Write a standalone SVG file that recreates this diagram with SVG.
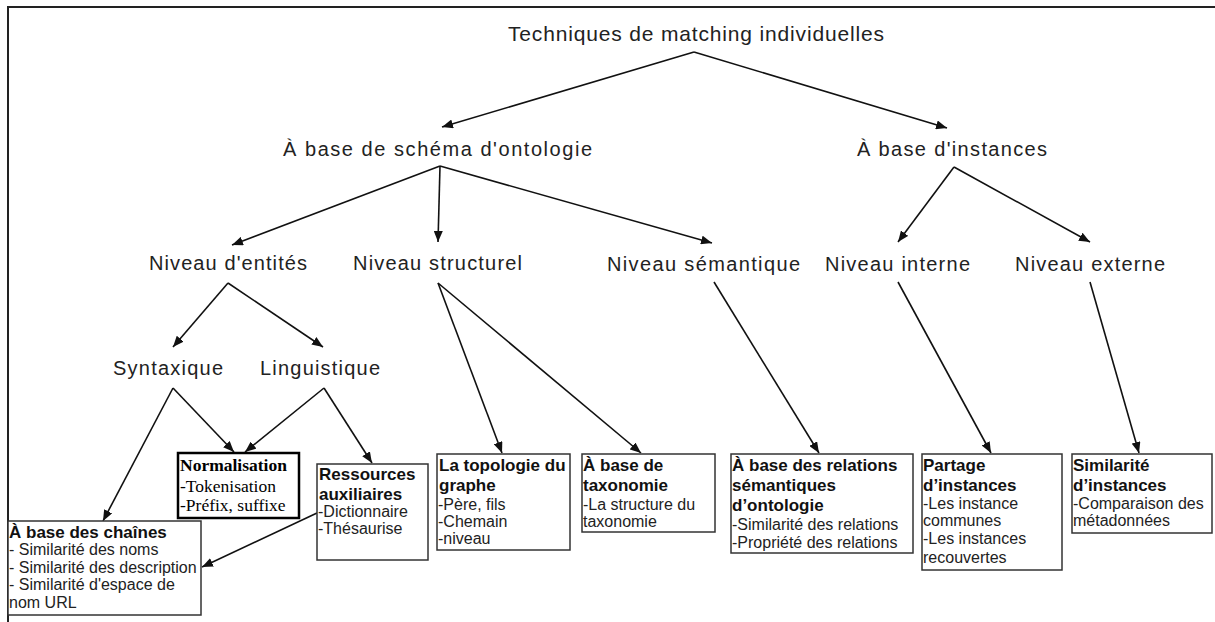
<svg xmlns="http://www.w3.org/2000/svg" width="1215" height="622" viewBox="0 0 1215 622">
<defs>
<marker id="ah" markerUnits="userSpaceOnUse" markerWidth="11" markerHeight="9" refX="11" refY="4.5" orient="auto">
<path d="M0,0 L11,4.5 L0,9 z" fill="#111"/>
</marker>
<style>
.lbl{font-family:"Liberation Sans",Arial,sans-serif;font-size:20px;fill:#222}
.ttl{font-family:"Liberation Sans",Arial,sans-serif;font-size:21px;fill:#222}
.box{fill:#fff;stroke:#333;stroke-width:1.5}
.boxk{fill:#fff;stroke:#000;stroke-width:2.5}
.b{font-family:"Liberation Sans",Arial,sans-serif;font-size:17px;font-weight:bold;fill:#111}
.r{font-family:"Liberation Sans",Arial,sans-serif;font-size:16px;fill:#222}
.tb{font-family:"Liberation Serif","Times New Roman",serif;font-size:17.5px;font-weight:bold;fill:#000}
.tr{font-family:"Liberation Serif","Times New Roman",serif;font-size:17.5px;fill:#000}
.c{stroke:#111;stroke-width:1.6;fill:none;marker-end:url(#ah)}
</style>
</defs>
<rect width="1215" height="622" fill="#fff"/>
<rect x="8" y="7" width="1230" height="640" fill="none" stroke="#222" stroke-width="2"/>

<g id="connectors">
<line class="c" x1="694" y1="52" x2="442" y2="127"/>
<line class="c" x1="694" y1="52" x2="947" y2="128"/>
<line class="c" x1="440" y1="166" x2="232" y2="245"/>
<line class="c" x1="440" y1="166" x2="438" y2="242"/>
<line class="c" x1="440" y1="166" x2="712" y2="243"/>
<line class="c" x1="954" y1="167" x2="898" y2="242"/>
<line class="c" x1="954" y1="167" x2="1090" y2="242"/>
<line class="c" x1="228" y1="283" x2="173" y2="347"/>
<line class="c" x1="228" y1="283" x2="323" y2="347"/>
<line class="c" x1="173" y1="388" x2="103" y2="521"/>
<line class="c" x1="173" y1="388" x2="234" y2="452"/>
<line class="c" x1="324" y1="388" x2="245" y2="452"/>
<line class="c" x1="324" y1="388" x2="372" y2="463"/>
<line class="c" x1="317" y1="513" x2="202" y2="567"/>
<line class="c" x1="438" y1="283" x2="502" y2="453"/>
<line class="c" x1="438" y1="283" x2="641" y2="453"/>
<line class="c" x1="714" y1="282" x2="819" y2="453"/>
<line class="c" x1="898" y1="282" x2="991" y2="453"/>
<line class="c" x1="1090" y1="282" x2="1139" y2="453"/>
</g>

<g id="n-root"><text class="ttl" x="508" y="41" textLength="376" lengthAdjust="spacing">Techniques de matching individuelles</text></g>
<g id="n-schema"><text class="lbl" x="283" y="156" textLength="309" lengthAdjust="spacing">À base de schéma d'ontologie</text></g>
<g id="n-instances"><text class="lbl" x="857" y="156" textLength="190" lengthAdjust="spacing">À base d'instances</text></g>
<g id="n-entites"><text class="lbl" x="149" y="270" textLength="158" lengthAdjust="spacing">Niveau d'entités</text></g>
<g id="n-structurel"><text class="lbl" x="353" y="270" textLength="169" lengthAdjust="spacing">Niveau structurel</text></g>
<g id="n-semantique"><text class="lbl" x="607" y="271" textLength="193" lengthAdjust="spacing">Niveau sémantique</text></g>
<g id="n-interne"><text class="lbl" x="825" y="271" textLength="145" lengthAdjust="spacing">Niveau interne</text></g>
<g id="n-externe"><text class="lbl" x="1015" y="271" textLength="150" lengthAdjust="spacing">Niveau externe</text></g>
<g id="n-syntaxique"><text class="lbl" x="113" y="375" textLength="110" lengthAdjust="spacing">Syntaxique</text></g>
<g id="n-linguistique"><text class="lbl" x="260" y="375" textLength="120" lengthAdjust="spacing">Linguistique</text></g>

<g id="n-normalisation">
<rect class="boxk" x="178" y="453" width="121" height="65"/>
<text class="tb" x="180" y="471">Normalisation</text>
<text class="tr" x="180" y="491.5">-Tokenisation</text>
<text class="tr" x="180" y="511">-Préfix, suffixe</text>
</g>

<g id="n-chaines">
<rect class="box" x="8" y="521" width="193" height="94"/>
<text class="b" x="9" y="538">À base des chaînes</text>
<text class="r" x="9" y="555">- Similarité des noms</text>
<text class="r" x="9" y="572.5">- Similarité des description</text>
<text class="r" x="9" y="590">- Similarité d'espace de</text>
<text class="r" x="9" y="608">nom URL</text>
</g>

<g id="n-ressources">
<rect class="box" x="317" y="464" width="111" height="96"/>
<text class="b" x="319" y="479.5">Ressources</text>
<text class="b" x="319" y="500">auxiliaires</text>
<text class="r" x="318" y="517">-Dictionnaire</text>
<text class="r" x="318" y="534">-Thésaurise</text>
</g>

<g id="n-topologie">
<rect class="box" x="437" y="454" width="133" height="96"/>
<text class="b" x="439" y="471">La topologie du</text>
<text class="b" x="439" y="491">graphe</text>
<text class="r" x="438" y="509.5">-Père, fils</text>
<text class="r" x="438" y="527">-Chemain</text>
<text class="r" x="438" y="544">-niveau</text>
</g>

<g id="n-taxonomie">
<rect class="box" x="582" y="454" width="133" height="78"/>
<text class="b" x="583" y="471">À base de</text>
<text class="b" x="583" y="491">taxonomie</text>
<text class="r" x="583" y="509.5">-La structure du</text>
<text class="r" x="583" y="527">taxonomie</text>
</g>

<g id="n-relations">
<rect class="box" x="731" y="454" width="182" height="99"/>
<text class="b" x="732" y="471">À base des relations</text>
<text class="b" x="732" y="491">sémantiques</text>
<text class="b" x="732" y="511">d’ontologie</text>
<text class="r" x="732" y="530">-Similarité des relations</text>
<text class="r" x="732" y="547.5">-Propriété des relations</text>
</g>

<g id="n-partage">
<rect class="box" x="922" y="454" width="140" height="116"/>
<text class="b" x="923" y="471">Partage</text>
<text class="b" x="923" y="491">d’instances</text>
<text class="r" x="923" y="508.5">-Les instance</text>
<text class="r" x="923" y="526">communes</text>
<text class="r" x="923" y="544">-Les instances</text>
<text class="r" x="923" y="562.5">recouvertes</text>
</g>

<g id="n-similarite">
<rect class="box" x="1072" y="454" width="140" height="79"/>
<text class="b" x="1073" y="471">Similarité</text>
<text class="b" x="1073" y="491">d’instances</text>
<text class="r" x="1073" y="508.5">-Comparaison des</text>
<text class="r" x="1073" y="526">métadonnées</text>
</g>
</svg>
